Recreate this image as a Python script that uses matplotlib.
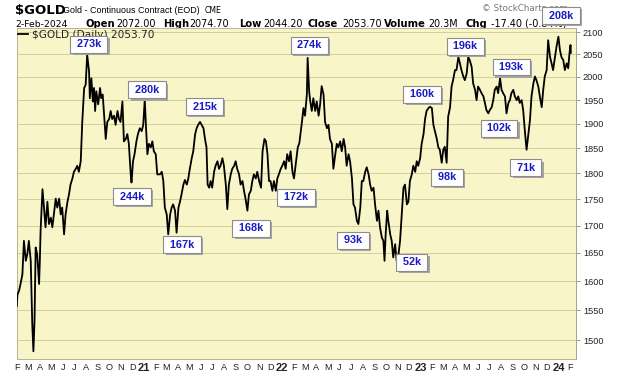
import numpy as np
import matplotlib
matplotlib.use("Agg")
import matplotlib.pyplot as plt
import matplotlib.dates as mdates
import matplotlib.patheffects as pe
from matplotlib.ticker import NullLocator

# ---------------- data ----------------
base_date = np.datetime64("2020-01-01")
days = [30, 32, 36, 40, 45, 49, 54, 58, 62, 67, 71, 74, 77, 80, 84, 89, 91, 93, 98, 102,
        106, 111, 115, 120, 124, 128, 133, 137, 142, 146, 150, 155, 159, 164, 168, 172, 177, 181, 186, 190,
        194, 199, 203, 208, 212, 216, 221, 223, 227, 231, 234, 237, 240, 245, 250, 253, 257, 260, 265, 269,
        274, 278, 282, 287, 291, 296, 300, 304, 309, 313, 318, 322, 326, 331, 333, 337, 341, 346, 350, 355,
        360, 364, 368, 371, 375, 379, 384, 388, 392, 397, 401,
        408, 413, 417, 421, 426, 430, 435, 439, 443, 448, 452, 457, 461, 465, 470, 474, 479, 483, 487, 492,
        496, 501, 505, 509, 514, 518, 523, 527, 531, 534, 538, 542, 546, 551, 555, 560, 564, 568, 573, 577,
        582, 586, 590, 595, 599, 604, 608, 612, 617, 621, 626, 630, 634, 639, 643, 648, 652, 656, 661, 665,
        670, 675, 679, 684, 688, 692, 696, 700, 705, 709, 714, 718, 722, 727, 731, 736, 740, 744, 749, 753,
        758, 762, 766, 772, 776,
        783, 787, 791, 796, 798, 802, 805, 809, 813, 818, 822, 827, 831, 835, 840, 844, 849, 853, 857, 862,
        866, 871, 875, 879, 884, 888, 893, 897, 901, 906, 910, 915, 919, 923, 928, 932, 937, 941, 945, 950,
        954, 959, 963, 967, 972, 976, 981, 985, 989, 994, 998, 1001, 1004, 1008, 1011, 1016, 1020, 1024, 1029, 1033,
        1038, 1042, 1046, 1051, 1055, 1060, 1064, 1068, 1073, 1077, 1082, 1086, 1090, 1095, 1099, 1104, 1108, 1112, 1117, 1121,
        1126, 1130, 1134, 1139, 1143,
        1147, 1152, 1156, 1160, 1165, 1169, 1174, 1178, 1182, 1187, 1191, 1196, 1200, 1204, 1209, 1213, 1218, 1222, 1226, 1231,
        1235, 1240, 1244, 1248, 1253, 1257, 1262, 1266, 1270, 1275, 1279, 1284, 1288, 1292, 1297, 1301, 1306, 1310, 1314, 1319,
        1323, 1328, 1332, 1336, 1341, 1345, 1350, 1354, 1358, 1363, 1367, 1372, 1376, 1380, 1385, 1389, 1394, 1398, 1402, 1407,
        1411, 1416, 1420, 1424, 1429, 1433, 1438, 1442, 1446, 1451, 1455, 1460, 1464, 1468, 1473, 1477, 1482, 1486, 1489, 1492,
        1493]
prices = [1557, 1577, 1583, 1595, 1612, 1672, 1636, 1648, 1672, 1636, 1527, 1482, 1533, 1660, 1648, 1595, 1636, 1690, 1769, 1734,
          1697, 1745, 1703, 1715, 1697, 1721, 1751, 1734, 1751, 1721, 1734, 1684, 1721, 1745, 1759, 1778, 1790, 1803, 1809, 1815,
          1803, 1824, 1904, 1976, 1983, 2049, 2012, 1954, 1997, 1947, 1976, 1927, 1969, 1941, 1976, 1954, 1962, 1927, 1869, 1904,
          1910, 1927, 1910, 1917, 1898, 1927, 1910, 1904, 1947, 1864, 1869, 1879, 1859, 1798, 1782, 1824, 1838, 1864, 1879, 1891,
          1885, 1898, 1951, 1898, 1838, 1859, 1852, 1864, 1844, 1838, 1798,
          1798, 1803, 1785, 1734, 1721, 1684, 1721, 1734, 1740, 1728, 1687, 1734, 1745, 1759, 1778, 1787, 1778, 1790, 1809, 1830,
          1844, 1879, 1891, 1898, 1904, 1898, 1891, 1869, 1852, 1778, 1772, 1785, 1772, 1803, 1815, 1824, 1809, 1815, 1830, 1815,
          1778, 1731, 1778, 1798, 1809, 1815, 1824, 1809, 1798, 1778, 1785, 1766, 1751, 1728, 1759, 1766, 1785, 1798, 1790, 1803,
          1785, 1772, 1844, 1869, 1864, 1838, 1785, 1785, 1766, 1785, 1766, 1790, 1798, 1809, 1815, 1824, 1809, 1838, 1824, 1844,
          1803, 1790, 1815, 1852, 1860,
          1904, 1933, 1917, 1962, 2042, 1969, 1947, 1927, 1954, 1927, 1947, 1917, 1941, 1980, 1962, 1904, 1891, 1898, 1869, 1859,
          1809, 1838, 1859, 1852, 1864, 1844, 1869, 1852, 1815, 1838, 1824, 1790, 1740, 1734, 1709, 1703, 1734, 1785, 1785, 1803,
          1812, 1798, 1778, 1766, 1772, 1740, 1709, 1728, 1697, 1678, 1672, 1636, 1684, 1728, 1709, 1684, 1672, 1642, 1666, 1636,
          1648, 1672, 1715, 1772, 1778, 1740, 1745, 1785, 1798, 1815, 1803, 1824, 1815, 1830, 1859, 1879, 1910, 1927, 1933, 1936,
          1933, 1898, 1885, 1869, 1852,
          1847, 1821, 1847, 1853, 1821, 1915, 1935, 1979, 1993, 2015, 2015, 2044, 2030, 2015, 2001, 1993, 2008, 2044, 2037, 2022,
          1986, 1972, 1950, 1979, 1972, 1965, 1958, 1944, 1929, 1922, 1929, 1935, 1950, 1972, 1979, 1965, 1997, 1972, 1965, 1958,
          1922, 1944, 1950, 1965, 1972, 1958, 1950, 1958, 1944, 1950, 1929, 1881, 1847, 1874, 1908, 1958, 1986, 2001, 1993, 1979,
          1958, 1935, 1972, 2001, 2015, 2082, 2044, 2030, 2015, 2044, 2067, 2090, 2060, 2044, 2037, 2015, 2030, 2019, 2050, 2071.1,
          2053.7]

y_ticks = [1500, 1550, 1600, 1650, 1700, 1750, 1800, 1850, 1900, 1950, 2000, 2050, 2100]
month_letters = ["J", "F", "M", "A", "M", "J", "J", "A", "S", "O", "N", "D"]

label_text = ["273k", "280k", "244k", "167k", "215k", "168k", "172k", "274k", "93k",
              "52k", "160k", "98k", "196k", "193k", "102k", "71k", "208k"]
label_day = [216, 368, 333, 452, 514, 639, 762, 798, 932, 1033, 1121, 1165, 1222, 1306, 1275, 1376, 1460]

header_open, header_high, header_low, header_close = "2072.00", "2074.70", "2044.20", "2053.70"
header_volume, header_chg = "20.3M", "-17.40 (-0.84%)"

# ---------------- style / layout ----------------
label_dx = [1.7, 2.2, 0.5, 5.4, 4.5, 3.6, 2, 1.9, -5.4, 15.3, -8, 0.3, -3.2, 11, 10.7, -0.6, 2.7]
label_dy = [10.7, 9.7, -14, -12, 15.3, -17.7, -19, 12.5, -16.3, -1.7, 12.3, -14.7, 10.7, 11.3, -14.7, -18, 21]

W, H = 620, 376
BG = "#F8F5C9"
GRID = "#D2CE9E"
BLUE = "#1A1AC4"

fig = plt.figure(figsize=(W / 100, H / 100), dpi=100)
ax = fig.add_axes([16.5 / W, 1 - 359.3 / H, (576 - 16.5) / W, (359.3 - 28.3) / H])
ax.set_zorder(5)
ax.set_facecolor(BG)

dates = base_date + np.array(days).astype("timedelta64[D]")
x = mdates.date2num(dates)
ax.plot(x, prices, color="black", lw=1.3, solid_joinstyle="round", zorder=3,
        label="\\$GOLD (Daily) 2053.70")

ax.set_yscale("log")
ax.set_ylim(1469.0, 2109.2)
ax.set_xlim(mdates.date2num(base_date + np.timedelta64(29, "D")) + 0.4,
            mdates.date2num(base_date + np.timedelta64(1506, "D")) + 0.5)

# y ticks
ax.set_yticks(y_ticks, labels=[str(v) for v in y_ticks])
ax.yaxis.set_minor_locator(NullLocator())
ax.yaxis.tick_right()
ax.tick_params(axis="y", which="major", length=3, width=0.6, color="#888888", pad=2,
               labelsize=6.6, labelcolor="#222222")
for t in ax.get_yticklabels():
    t.set_fontfamily("Liberation Sans")

# x ticks: month starts
months = np.arange(np.datetime64("2020-02"), np.datetime64("2024-03"), np.timedelta64(1, "M"))
mnum = mdates.date2num(months.astype("datetime64[D]"))
mlabels = []
for m in months:
    yr = int(str(m)[:4])
    mo = int(str(m)[5:7])
    mlabels.append(str(yr)[2:] if mo == 1 else month_letters[mo - 1])
ax.set_xticks(mnum, labels=mlabels)
ax.tick_params(axis="x", which="both", length=0, pad=3, labelsize=6.6, labelcolor="#222222")
for t, lab in zip(ax.get_xticklabels(), mlabels):
    t.set_fontfamily("Liberation Sans")
    if lab.isdigit():
        t.set_fontweight("bold")
        t.set_fontsize(8)
quarters = [m for m in months if int(str(m)[5:7]) in (1, 4, 7, 10)]
qnum = mdates.date2num(np.array(quarters).astype("datetime64[D]"))
ax.set_xticks(qnum, minor=True)
ax.grid(which="minor", axis="x", color=GRID, lw=0.7)
ax.grid(which="major", axis="y", color=GRID, lw=0.7)
ax.set_axisbelow(True)

for s in ax.spines.values():
    s.set_color("#B8B490")
    s.set_linewidth(0.7)
ax.spines["right"].set_color("#A8A488")

# legend
leg = ax.legend(loc="upper left", frameon=False, fontsize=7.6, handlelength=0.9,
                handletextpad=0.4, borderaxespad=0.05, borderpad=0.1)
for t in leg.get_texts():
    t.set_color("#222222")
leg.set_zorder(4)

# labels (white boxes with drop shadow)
days_arr = np.array(days)
for txt, d, dx, dy in zip(label_text, label_day, label_dx, label_dy):
    i = int(np.argmin(np.abs(days_arr - d)))
    ann = ax.annotate(" " + txt + " ", xy=(x[i], prices[i]), xycoords="data",
                      xytext=(dx, dy), textcoords="offset pixels", ha="center", va="center",
                      fontsize=7.8, fontweight="bold", family="Liberation Sans", color=BLUE,
                      annotation_clip=False, zorder=8,
                      bbox=dict(boxstyle="square,pad=0.32", fc="white", ec="#8C8C8C", lw=0.8))
    ann.get_bbox_patch().set_path_effects(
        [pe.SimplePatchShadow(offset=(1.6, -1.6), shadow_rgbFace="#A4A4A4", alpha=1.0), pe.Normal()])

# header
def ftext(px, py, s, **kw):
    return fig.text(px / W, 1 - py / H, s, va="baseline", ha="left", **kw)

ftext(15, 14, "\\$GOLD", fontsize=9.5, fontweight="bold", family="DejaVu Sans", color="black")
ftext(63, 13, "Gold - Continuous Contract (EOD)", fontsize=6.4, family="Liberation Sans", color="black")
ftext(205, 13, "CME", fontsize=5.6, family="DejaVu Sans", color="black")
ftext(15, 27, "2-Feb-2024", fontsize=6.7, family="DejaVu Sans", color="black")
pieces = [(85, "Open", True), (116, header_open, False), (163, "High", True), (189, header_high, False),
          (239, "Low", True), (263, header_low, False), (307, "Close", True), (342, header_close, False),
          (384, "Volume", True), (428, header_volume, False), (466, "Chg", True), (491, header_chg, False)]
for px, s, b in pieces:
    ftext(px, 27, s, fontsize=7.2 if b else 6.9, fontweight="bold" if b else "normal",
          family="DejaVu Sans", color="black")
ftext(482, 11, "\u00a9 StockCharts.com", fontsize=6.3, family="DejaVu Sans", color="#777777")

fig.savefig("out.png", dpi=100, facecolor="white")
